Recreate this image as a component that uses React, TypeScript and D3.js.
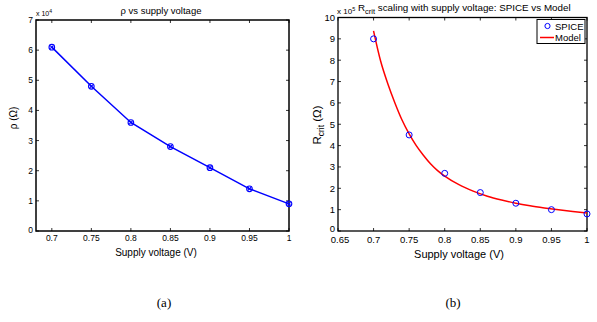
import * as d3 from "d3";
import React from "react";

// panel (a): rho vs supply voltage (x 10^4 ohm)
const rhoVolts = [0.7, 0.75, 0.8, 0.85, 0.9, 0.95, 1.0];
const rhoValues = [6.1, 4.8, 3.6, 2.8, 2.1, 1.4, 0.9];
const rhoXTicks = [0.7, 0.75, 0.8, 0.85, 0.9, 0.95, 1];
const rhoYTicks = [0, 1, 2, 3, 4, 5, 6, 7];

// panel (b): Rcrit, SPICE points and model curve (x 10^5 ohm)
const spiceVolts = [0.7, 0.75, 0.8, 0.85, 0.9, 0.95, 1.0];
const spiceValues = [9.0, 4.5, 2.7, 1.8, 1.3, 1.0, 0.8];
const modelVolts = [0.7, 0.71, 0.72, 0.73, 0.74, 0.75, 0.76, 0.77, 0.78, 0.79, 0.8, 0.82, 0.84, 0.86, 0.88, 0.9, 0.92, 0.94, 0.96, 0.98, 1.0];
const modelValues = [9.37, 7.95, 6.9, 6.0, 5.2, 4.55, 4.0, 3.55, 3.15, 2.83, 2.57, 2.17, 1.87, 1.63, 1.45, 1.3, 1.18, 1.08, 0.99, 0.91, 0.84];
const rcXTicks = [0.65, 0.7, 0.75, 0.8, 0.85, 0.9, 0.95, 1];
const rcYTicks = [0, 1, 2, 3, 4, 5, 6, 7, 8, 9, 10];

const font = "'Liberation Sans', Arial, sans-serif";
const fmt = (v: number) => String(+v.toFixed(2));

export default function App() {
  // LEFT
  const ax = d3.scaleLinear().domain([0.68, 1]).range([36, 289]);
  const ay = d3.scaleLinear().domain([0, 7]).range([231, 20]);
  const aLine = d3
    .line<number>()
    .x((d, i) => ax(rhoVolts[i]))
    .y((d) => ay(d));

  // RIGHT
  const bx = d3.scaleLinear().domain([0.65, 1]).range([338, 587]);
  const by = d3.scaleLinear().domain([0, 10]).range([231, 17.5]);
  const bLine = d3
    .line<number>()
    .x((d, i) => bx(modelVolts[i]))
    .y((d) => by(d))
    .curve(d3.curveMonotoneX);

  const tk = 3;

  return (
    <svg width={597} height={322} style={{ position: "absolute", left: 0, top: 0, background: "#fff" }}>
      <g fontFamily={font} fill="#000">
        {/* ---------- panel (a) ---------- */}
        <rect x={36} y={20} width={253} height={211} fill="none" stroke="#000" strokeWidth={1.5} />
        {rhoXTicks.map((t) => (
          <g key={"ax" + t}>
            <line x1={ax(t)} x2={ax(t)} y1={231} y2={231 - tk} stroke="#000" strokeWidth={0.8} />
            <line x1={ax(t)} x2={ax(t)} y1={20} y2={20 + tk} stroke="#000" strokeWidth={0.8} />
            <text x={ax(t)} y={241} fontSize={8.5} textAnchor="middle">{fmt(t)}</text>
          </g>
        ))}
        {rhoYTicks.map((t) => (
          <g key={"ay" + t}>
            <line x1={36} x2={36 + tk} y1={ay(t)} y2={ay(t)} stroke="#000" strokeWidth={0.8} />
            <line x1={289} x2={289 - tk} y1={ay(t)} y2={ay(t)} stroke="#000" strokeWidth={0.8} />
            <text x={33} y={ay(t) + (t === 0 ? 1.5 : 3)} fontSize={8.5} textAnchor="end">{t}</text>
          </g>
        ))}
        <text x={36} y={16} fontSize={7}>
          x 10<tspan dy={-3} fontSize={5}>4</tspan>
        </text>
        <text x={161} y={14} fontSize={9.5} textAnchor="middle">ρ vs supply voltage</text>
        <text x={156} y={256} fontSize={10} textAnchor="middle">Supply voltage (V)</text>
        <text transform="translate(17,118) rotate(-90)" fontSize={10} textAnchor="middle">ρ (Ω)</text>
        <path d={aLine(rhoValues) || ""} fill="none" stroke="#0000ff" strokeWidth={1.5} />
        {rhoValues.map((v, i) => (
          <g key={"am" + i} stroke="#0000ff" strokeWidth={1.1} fill="none">
            <circle cx={ax(rhoVolts[i])} cy={ay(v)} r={2.8} />
            <line x1={ax(rhoVolts[i]) - 1.6} x2={ax(rhoVolts[i]) + 1.6} y1={ay(v) - 1.6} y2={ay(v) + 1.6} />
            <line x1={ax(rhoVolts[i]) - 1.6} x2={ax(rhoVolts[i]) + 1.6} y1={ay(v) + 1.6} y2={ay(v) - 1.6} />
          </g>
        ))}

        {/* ---------- panel (b) ---------- */}
        <rect x={338} y={17.5} width={249} height={213.5} fill="none" stroke="#000" strokeWidth={1.3} />
        {rcXTicks.map((t) => (
          <g key={"bx" + t}>
            <line x1={bx(t)} x2={bx(t)} y1={231} y2={231 - tk} stroke="#000" strokeWidth={0.8} />
            <line x1={bx(t)} x2={bx(t)} y1={17.5} y2={17.5 + tk} stroke="#000" strokeWidth={0.8} />
            <text x={bx(t) + (t === 0.65 ? 2 : 0)} y={243} fontSize={9.5} textAnchor="middle">{fmt(t)}</text>
          </g>
        ))}
        {rcYTicks.map((t) => (
          <g key={"by" + t}>
            <line x1={338} x2={338 + tk} y1={by(t)} y2={by(t)} stroke="#000" strokeWidth={0.8} />
            <line x1={587} x2={587 - tk} y1={by(t)} y2={by(t)} stroke="#000" strokeWidth={0.8} />
            <text x={335} y={by(t) + (t === 0 ? 1 : 3.5)} fontSize={9.5} textAnchor="end">{t}</text>
          </g>
        ))}
        <text x={337} y={14} fontSize={8}>
          x 10<tspan dy={-3.5} fontSize={5.5}>5</tspan>
        </text>
        <text x={358} y={11} fontSize={9.8}>
          R<tspan dy={3} fontSize={7.5}>crit</tspan>
          <tspan dy={-3}> scaling with supply voltage: SPICE vs Model</tspan>
        </text>
        <text x={459} y={258} fontSize={11} textAnchor="middle">Supply voltage (V)</text>
        <text transform="translate(321,125) rotate(-90)" fontSize={11.5} textAnchor="middle">
          R<tspan dy={3} fontSize={8.5}>crit</tspan>
          <tspan dy={-3}> (Ω)</tspan>
        </text>
        <path d={bLine(modelValues) || ""} fill="none" stroke="#ff0000" strokeWidth={1.5} />
        {spiceValues.map((v, i) => (
          <circle key={"bm" + i} cx={bx(spiceVolts[i])} cy={by(v)} r={3} fill="none" stroke="#0000ff" strokeWidth={1} />
        ))}

        {/* legend */}
        <rect x={537} y={19.5} width={48} height={24} fill="#fff" stroke="#000" strokeWidth={1} />
        <circle cx={547.5} cy={26} r={2.6} fill="none" stroke="#0000ff" strokeWidth={1} />
        <text x={555} y={29.5} fontSize={9.5}>SPICE</text>
        <line x1={540} x2={554} y1={37.5} y2={37.5} stroke="#ff0000" strokeWidth={1.5} />
        <text x={555} y={41} fontSize={9.5}>Model</text>
      </g>

      {/* captions */}
      <text x={164} y={307} fontSize={13} fontFamily="'Liberation Serif', 'Times New Roman', serif" textAnchor="middle">(a)</text>
      <text x={453} y={307} fontSize={13} fontFamily="'Liberation Serif', 'Times New Roman', serif" textAnchor="middle">(b)</text>
    </svg>
  );
}
